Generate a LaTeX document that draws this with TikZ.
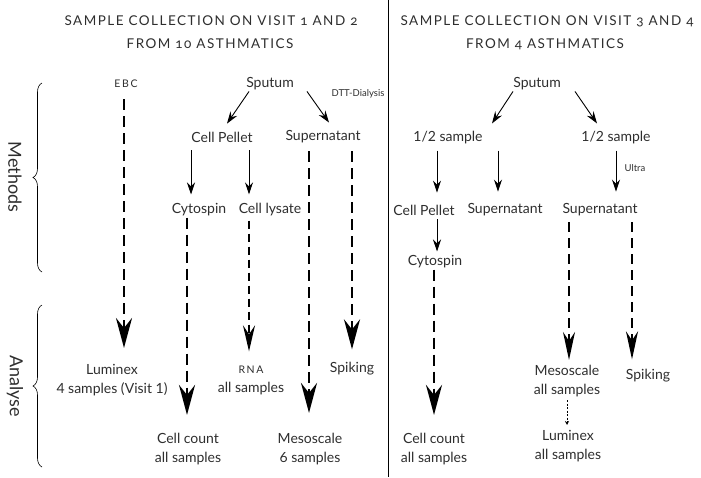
\documentclass[tikz,border=0pt]{standalone}
\usepackage{fontspec}
\setmainfont{Lato}
\newfontfamily\titlefont[LetterSpace=11,Numbers=OldStyle]{Lato}
\newfontfamily\scfont[LetterSpace=15]{Lato}
\usetikzlibrary{arrows.meta,decorations.pathreplacing,calc}
\definecolor{txt}{HTML}{2E2E2E}
\begin{document}
\begin{tikzpicture}[x=1pt,y=-1pt,
  lbl/.style={font=\fontsize{14}{19}\selectfont, text=txt, inner sep=1pt, align=center},
  small/.style={font=\fontsize{9.5}{10}\selectfont, text=txt, inner sep=1pt},
  sclbl/.style={font=\scfont\fontsize{10.5}{12}\selectfont, text=txt, inner sep=1pt},
  ttl/.style={font=\titlefont\fontsize{13.5}{16}\selectfont, text=txt, inner sep=0pt},
  side/.style={font=\fontsize{18}{20}\selectfont, text=txt, rotate=-90, inner sep=0pt},
  solarr/.style={line width=0.9pt, -{Stealth[length=12pt,width=8pt,inset=4pt]}},
  bigarr/.style={line width=2.8pt, dash pattern=on 11pt off 6pt, -{Stealth[length=30pt,width=16pt,inset=10pt]}},
  midarr/.style={line width=2.1pt, dash pattern=on 10pt off 6pt, -{Stealth[length=28pt,width=12pt,inset=9pt]}},
  thinarr/.style={line width=1.9pt, dash pattern=on 8pt off 5pt, -{Stealth[length=26pt,width=12pt,inset=9pt]}},
  dotarr/.style={line width=0.8pt, dash pattern=on 2pt off 1.5pt, -{Stealth[length=4pt,width=4pt]}},
  bracestyle/.style={line width=0.6pt, decorate, decoration={brace, amplitude=9pt}}
]
\useasboundingbox (0,0) rectangle (701,477);

% titles
\node[ttl] (t1a) at (211,21) {SAMPLE COLLECTION ON VISIT 1 AND 2};
\node[ttl] (t1b) at (210,44) {FROM 10 ASTHMATICS};
\node[ttl] (t2a) at (547,21) {SAMPLE COLLECTION ON VISIT 3 AND 4};
\node[ttl] (t2b) at (545,44) {FROM 4 ASTHMATICS};

% divider
\draw[line width=0.9pt] (388,0) -- (388,477);

% braces and side labels
\draw[bracestyle] (42,272) -- (42,83);
\draw[bracestyle] (42,467) -- (42,305);
\node[side] (meth) at (15,177) {Methods};
\node[side] (anal) at (15,386) {Analyse};

% left nodes
\node[sclbl] (ebc) at (126,84) {EBC};
\node[lbl] (sputL) at (270,84) {Sputum};
\node[small] (dtt) at (358,94) {DTT-Dialysis};
\node[lbl] (cpL) at (222,137) {Cell Pellet};
\node[lbl] (supL) at (323,137) {Supernatant};
\node[lbl] (cytoL) at (199,210) {Cytospin};
\node[lbl] (lys) at (270,210) {Cell lysate};
\node[lbl] (lum) at (112,380) {Luminex\\4 samples (Visit 1)};
\node[lbl] (rna) at (251,380) {{\scfont\fontsize{10.5}{12}\selectfont RNA}\\all samples};
\node[lbl] (spkL) at (352,369) {Spiking};
\node[lbl] (ccL) at (188,449) {Cell count\\all samples};
\node[lbl] (mesoL) at (310,449) {Mesoscale\\6 samples};

% right nodes
\node[lbl] (sputR) at (537,84) {Sputum};
\node[lbl] (halfL) at (448,138) {1/2 sample};
\node[lbl] (halfR) at (616,138) {1/2 sample};
\node[small] (ultra) at (635,168) {Ultra};
\node[lbl] (cpR) at (424,210) {Cell Pellet};
\node[lbl] (supM) at (505,210) {Supernatant};
\node[lbl] (supR) at (600,210) {Supernatant};
\node[lbl] (cytoR) at (435,262) {Cytospin};
\node[lbl] (ccR) at (434,449) {Cell count\\all samples};
\node[lbl] (mesoR) at (567,381) {Mesoscale\\all samples};
\node[lbl] (spkR) at (648,376) {Spiking};
\node[lbl] (lumR) at (568,446) {Luminex\\all samples};

% left connectors
\draw[bigarr] ($(ebc.south)+(-2,10)$) -- ($(ebc.south |- lum.north)+(-2,-15)$);
\draw[solarr] ($(sputL.south)+(-21,0)$) -- ($(cpL.north)+(5,-7)$);
\draw[solarr] ($(sputL.south)+(37,0)$) -- ($(supL.north)+(6,-7)$);
\draw[solarr] ($(cytoL.north |- cpL.south)+(-8,7)$) -- ($(cytoL.north)+(-8,-8)$);
\draw[solarr] ($(lys.north |- cpL.south)+(-21,7)$) -- ($(lys.north)+(-21,-8)$);
\draw[bigarr] ($(cytoL.south)+(-12,0)$) -- ($(cytoL.south |- ccL.north)+(-12,-17)$);
\draw[thinarr] ($(lys.south)+(-21,3)$) -- ($(lys.south |- rna.north)+(-21,-13)$);
\draw[bigarr] ($(supL.south)+(-14,7)$) -- ($(supL.south |- mesoL.north)+(-14,-19)$);
\draw[bigarr] ($(supL.south)+(29,7)$) -- ($(supL.south |- spkL.north)+(29,-12)$);

% right connectors
\draw[solarr] ($(sputR.south)+(-24,0)$) -- ($(halfL.north)+(44,-7)$);
\draw[solarr] ($(sputR.south)+(38,0)$) -- ($(halfR.north)+(-19,-7)$);
\draw[solarr] ($(halfL.south)+(-11,5)$) -- ($(halfL.south |- cpR.north)+(-11,-11)$);
\draw[solarr] ($(halfL.south)+(50,5)$) -- ($(halfL.south |- supM.north)+(50,-11)$);
\draw[solarr] ($(halfR.south)+(0,5)$) -- ($(halfR.south |- supR.north)+(0,-11)$);
\draw[solarr] ($(cytoR.north |- cpR.south)+(2,3)$) -- ($(cytoR.north)+(2,-3)$);
\draw[bigarr] ($(cytoR.south)+(-1,0)$) -- ($(cytoR.south |- ccR.north)+(-1,-17)$);
\draw[midarr] ($(supR.south)+(-31,5)$) -- ($(supR.south |- mesoR.north)+(-31,-4)$);
\draw[midarr] ($(supR.south)+(32,5)$) -- ($(supR.south |- spkR.north)+(32,-9)$);
\draw[dotarr] ($(mesoR.south)+(0,2)$) -- ($(mesoR.south |- lumR.north)+(0,-4)$);
\end{tikzpicture}
\end{document}
